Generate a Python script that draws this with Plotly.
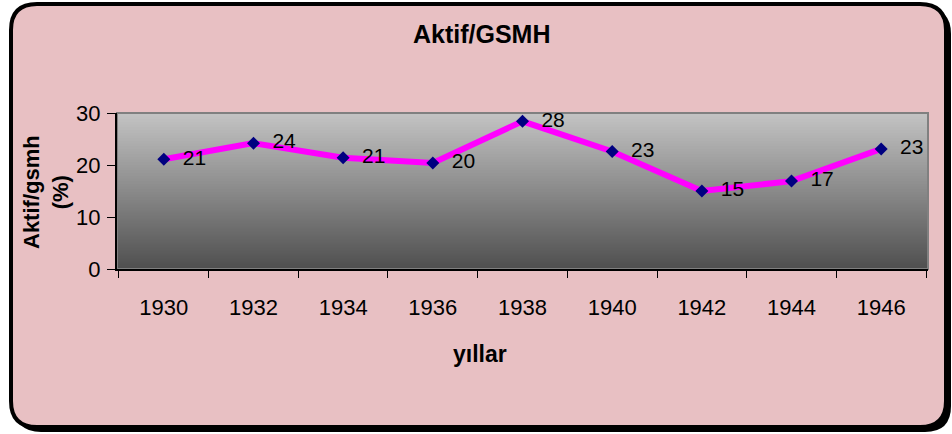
import plotly.graph_objects as go

# data
years = ["1930", "1932", "1934", "1936", "1938", "1940", "1942", "1944", "1946"]
aktif_gsmh = [21.1, 24.2, 21.4, 20.4, 28.4, 22.6, 15.0, 16.9, 23.1]

W, H = 952, 434
L, R, T, B = 117, 24, 113, 165
pw, ph = W - L - R, H - T - B

# pixel -> paper helpers for the decoration
def px(x):
    return (x - L) / pw

def py(y):
    return (H - B - y) / ph

def rounded_rect(x0, y0, x1, y1, r):
    return ("M {a},{b} L {c},{b} Q {d},{b} {d},{e} L {d},{f} Q {d},{g} {c},{g} "
            "L {a},{g} Q {h},{g} {h},{f} L {h},{e} Q {h},{b} {a},{b} Z").format(
        a=px(x0 + r), b=py(y0), c=px(x1 - r), d=px(x1), e=py(y0 + r),
        f=py(y1 - r), g=py(y1), h=px(x0))

fig = go.Figure()
fig.add_trace(go.Scatter(
    x=years, y=aktif_gsmh, mode="lines+markers+text",
    line=dict(color="#FF00FF", width=6),
    marker=dict(symbol="diamond", color="#000080", size=10),
    texttemplate="\u00a0\u00a0%{y:.0f}", textposition="middle right",
    textfont=dict(family="Liberation Sans, Arial", size=21, color="black"),
    cliponaxis=False, showlegend=False))

shapes = []
# shadow + frame
shapes.append(dict(type="path", xref="paper", yref="paper", layer="below",
                   path=rounded_rect(15, 8, 951, 432, 26),
                   fillcolor="black", line=dict(width=0)))
shapes.append(dict(type="path", xref="paper", yref="paper", layer="below",
                   path=rounded_rect(11, 4, 946, 427, 26),
                   fillcolor="#E8C0C3", line=dict(color="black", width=4)))
# gradient plot background
n = 156
top, bot = 196, 80
for i in range(n):
    c = round(top + (bot - top) * (i + 0.5) / n)
    shapes.append(dict(type="rect", xref="x domain", yref="y domain", layer="below",
                       x0=0, x1=1, y0=1 - (i + 1) / n, y1=1 - i / n + 0.004,
                       fillcolor=f"rgb({c},{c},{c})", line=dict(width=0)))
shapes.append(dict(type="rect", xref="x domain", yref="y domain", layer="below",
                   x0=0, x1=1, y0=0, y1=1, fillcolor="rgba(0,0,0,0)",
                   line=dict(color="#808080", width=2)))

fig.update_layout(
    width=W, height=H,
    margin=dict(l=L, r=R, t=T, b=B),
    paper_bgcolor="white", plot_bgcolor="rgba(0,0,0,0)",
    font=dict(family="Liberation Sans, Arial", color="black"),
    shapes=shapes,
    annotations=[
        dict(text="<b>Aktif/GSMH</b>", xref="paper", yref="paper",
             x=px(482), y=py(34), xanchor="center", yanchor="middle",
             showarrow=False, font=dict(size=25)),
        dict(text="<b>yıllar</b>", xref="paper", yref="paper",
             x=px(480), y=py(354), xanchor="center", yanchor="middle",
             showarrow=False, font=dict(size=23)),
        dict(text="<b>Aktif/gsmh<br>(%)</b>", xref="paper", yref="paper",
             x=px(46), y=py(192), xanchor="center", yanchor="middle",
             showarrow=False, textangle=-90, font=dict(size=22)),
    ],
    xaxis=dict(type="category", tickson="boundaries", ticks="outside",
               ticklen=7, tickcolor="black", showline=True, linecolor="black",
               linewidth=2, showgrid=False, tickfont=dict(size=22),
               ticklabelstandoff=18),
    yaxis=dict(range=[0, 30], dtick=10, ticks="outside", ticklen=8,
               tickcolor="black", showline=True, linecolor="black",
               linewidth=2, showgrid=False, zeroline=False,
               tickfont=dict(size=22), ticklabelstandoff=2),
)

# page body has an 8px default margin; drop it so the figure sits at 0,0
fig.write_html("out.html", config={"displayModeBar": False},
               post_script="document.body.style.margin='0';")
